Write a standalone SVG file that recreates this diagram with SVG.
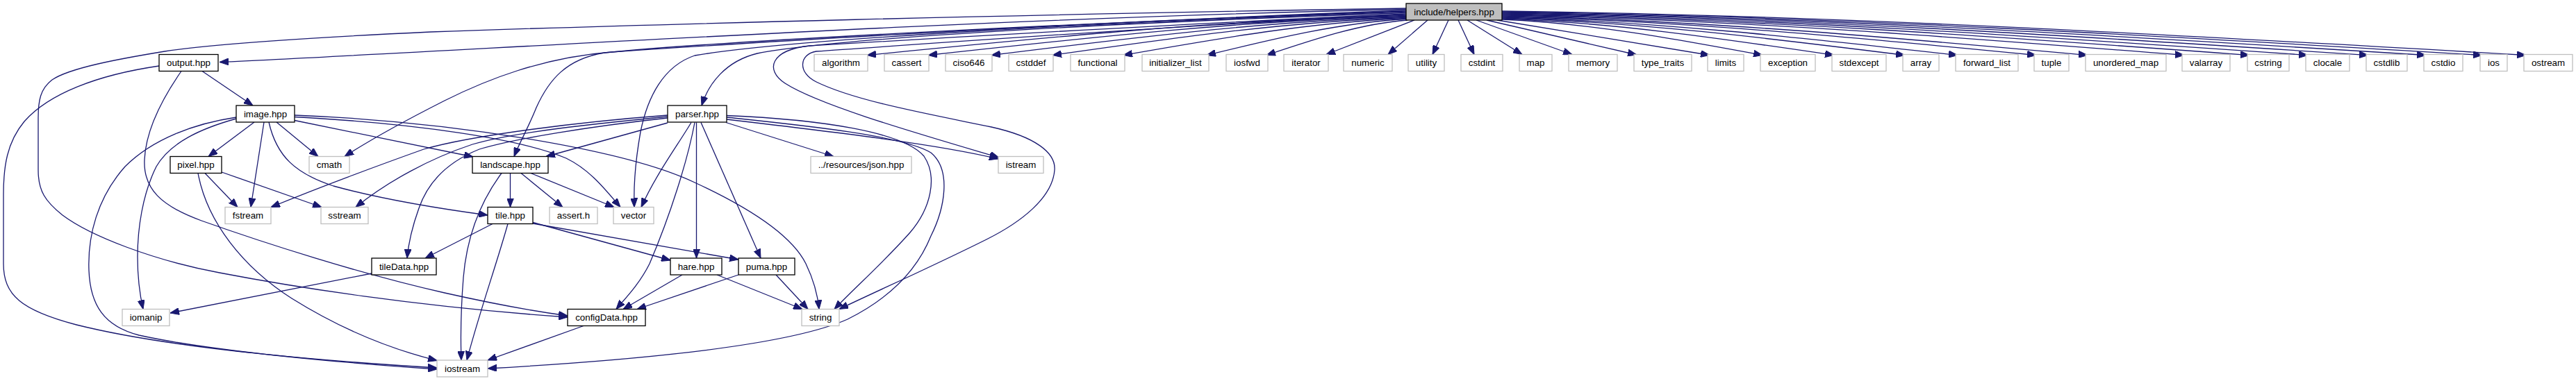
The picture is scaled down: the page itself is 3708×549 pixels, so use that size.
<svg xmlns="http://www.w3.org/2000/svg" width="3708" height="549" viewBox="0 0 3708 549">
<style>
.node rect{fill:#ffffff;stroke:#bfbfbf;stroke-width:1.3}
.node.b rect{stroke:#000000}
.node.root rect{fill:#bfbfbf;stroke:#000000}
.node text{font-family:"Liberation Sans",Helvetica,Arial,sans-serif;font-size:13.33px;text-anchor:middle;fill:#000000}
#edges path{fill:none;stroke:#191970;stroke-width:1.3;marker-end:url(#arr)}
</style>
<defs>
<marker id="arr" viewBox="0 0 13 10" refX="13" refY="5" markerWidth="13" markerHeight="10" orient="auto" markerUnits="userSpaceOnUse">
<path d="M0,0L13,5L0,10z" fill="#191970" stroke="#191970" stroke-width="1"/>
</marker>
</defs>
<rect width="3708" height="549" fill="#ffffff"/>
<g id="edges">
<!-- root long edges -->
<path d="M2024,12 C1500,20 900,36 620,46 C450,54 300,64 237,74 C170,85 100,98 75,115 C58,128 55,145 55,170 L55,245 C55,275 65,290 90,310 C130,340 220,375 316,393 C420,413 600,442 817,457"/>
<path d="M2024,13.5 C1400,26 700,72 316,89.5"/>
<path d="M2024,15 C1600,30 1100,60 880,75 C780,83 700,115 640,145 C575,178 535,200 496,225.5"/>
<path d="M2024,16 C1600,31 1050,58 870,76 C815,85 790,115 772,155 C760,185 748,205 740,225.5"/>
<path d="M2024,17 C1600,32 1150,55 1000,80 C955,95 932,140 922,190 C914,235 912,270 913,298.5"/>
<path d="M2024,18.5 C1600,33 1200,55 1090,77 C1045,88 1020,120 1010,152"/>
<path d="M2024,20 C1700,34 1350,55 1165,66 C1110,72 1100,100 1130,120 C1180,152 1320,192 1438,227"/>
<path d="M2024,21 C1700,36 1350,62 1175,74 C1150,78 1148,105 1175,118 C1230,145 1330,163 1427,183 C1490,197 1520,220 1518,245 C1515,285 1470,320 1420,345 C1340,385 1250,425 1208,445.5"/>
<!-- root fan left -->
<path d="M2024,22.5 C1765.3,28.2 1506.7,53.85 1248,79.5"/>
<path d="M2024,23.5 C1794.7,29.1 1565.3,54.3 1336,79.5"/>
<path d="M2024,24.5 C1825,30 1626,54.75 1427,79.5"/>
<path d="M2024,25.5 C1854.3,30.9 1684.7,55.2 1515,79.5"/>
<path d="M2024,26.5 C1888.3,31.8 1752.7,55.65 1617,79.5"/>
<path d="M2024,27.5 C1928.3,32.7 1832.7,56.1 1737,79.5"/>
<path d="M2026,29 C1958.3,34 1890.7,56.8 1823,79.5"/>
<path d="M2036,29 L1909,78.5"/>
<path d="M2055,29 L1998,78.5"/>
<path d="M2085,29 L2062,78.5"/>
<path d="M2099,29 L2122,78.5"/>
<path d="M2112,29 L2191,78.5"/>
<path d="M2125,29 L2263,78.5"/>
<path d="M2140,29 L2356,79"/>
<path d="M2155,29 L2461,79.5"/>
<!-- root fan right -->
<path d="M2162,28 C2287,33.15 2412,56.3 2537,79.5"/>
<path d="M2162,27 C2321.3,32.25 2480.7,55.9 2640,79.5"/>
<path d="M2162,26 C2355.3,31.35 2548.7,55.4 2742,79.5"/>
<path d="M2162,25 C2380.7,30.45 2599.3,55 2818,79.5"/>
<path d="M2162,24 C2418.3,29.55 2674.7,54.5 2931,79.5"/>
<path d="M2162,23 C2443,28.65 2724,54.1 3005,79.5"/>
<path d="M2162,22 C2489.3,27.75 2816.7,53.6 3144,79.5"/>
<path d="M2162,21 C2520.7,26.85 2879.3,53.2 3238,79.5"/>
<path d="M2162,20 C2548.7,25.95 2935.3,52.7 3322,79.5"/>
<path d="M2162,19 C2577.7,25.05 2993.3,52.3 3409,79.5"/>
<path d="M2162,18 C2605.3,24.15 3048.7,51.8 3492,79.5"/>
<path d="M2162,17 C2632.3,23.25 3102.7,51.4 3573,79.5"/>
<path d="M2162,16 C2653.3,22.35 3144.7,50.9 3636,79.5"/>
<!-- output.hpp -->
<path d="M291,102.5 L364,152"/>
<path d="M261,102.5 C235,140 210,185 208,230 C206,272 232,297 290,318 C380,350 520,395 640,422 C720,440 780,450 817,455"/>
<path d="M229,95 C140,108 70,135 35,175 C10,205 5,240 5,280 L5,380 C5,425 30,447 110,468 C230,498 430,518 629,530"/>
<!-- image.hpp -->
<path d="M366,176 L300,225.5"/>
<path d="M380,176 L361,298.5"/>
<path d="M398,176 L458,225.5"/>
<path d="M387,176 C398,225 425,250 480,268 C560,290 650,303 702,310"/>
<path d="M424,173.5 L681,226"/>
<path d="M424,168.5 C600,178 750,200 815,228 C850,245 872,274 893,298.5"/>
<path d="M424,166 C650,175 900,215 1000,263 C1080,300 1140,340 1160,380 C1172,405 1177,425 1179,445.5"/>
<path d="M340,171 C290,185 245,205 225,240 C205,280 198,330 198,370 C198,405 202,428 206,445.5"/>
<path d="M340,169 C280,178 220,200 180,240 C140,285 126,340 128,390 C130,440 150,470 200,483 C300,505 480,522 629,532"/>
<!-- pixel.hpp -->
<path d="M295,249.5 L342,298.5"/>
<path d="M319,248 L463,298.5"/>
<path d="M285,249.5 C298,320 350,385 420,430 C500,480 570,505 629,519.5"/>
<!-- landscape.hpp -->
<path d="M734.5,249.5 L734.5,298.5"/>
<path d="M750,249.5 L810,298.5"/>
<path d="M764,249.5 L884,298.5"/>
<path d="M722,249.5 C692,290 672,340 667,400 C663,450 663,490 664,519"/>
<!-- tile.hpp -->
<path d="M709,322.5 L612,372"/>
<path d="M731,322.5 C715,380 690,450 672,519"/>
<path d="M767,320.5 L965,375"/>
<path d="M767,322 L1063,374"/>
<!-- tileData, hare, puma, configData -->
<path d="M535,394 L245,451"/>
<path d="M982,396 L897,445.5"/>
<path d="M1063,396 L917,445.5"/>
<path d="M1032,396 L1155,445.5"/>
<path d="M1117,396 L1163,445.5"/>
<path d="M840,469.5 L702,519"/>
<!-- parser.hpp -->
<path d="M961,177 L786,225.5"/>
<path d="M961,166 C830,176 680,195 610,215 C540,240 460,270 390,298.5"/>
<path d="M961,168 C860,178 740,190 680,208 C620,228 560,260 512,298.5"/>
<path d="M961,170 C850,182 740,200 690,215 C640,235 615,265 603,300 C594,325 588,350 586,372"/>
<path d="M1000,176.5 C990,230 965,310 935,380 C920,410 900,430 887,445.5"/>
<path d="M995,176.5 C975,210 945,250 923,298.5"/>
<path d="M1002.5,176.5 L1002.5,372"/>
<path d="M1009,176.5 L1095,372"/>
<path d="M1045,176.5 L1200,225.5"/>
<path d="M1046,172 C1200,190 1350,208 1437,229"/>
<path d="M1046,166.5 C1180,172 1300,190 1330,225 C1350,255 1340,300 1310,335 C1270,380 1230,415 1201,445.5"/>
<path d="M1046,169 C1150,180 1300,195 1340,220 C1370,245 1360,300 1340,340 C1320,390 1280,430 1220,460 C1130,500 900,520 702,531"/>
</g>
<g id="n_root" class="node root"><rect x="2024" y="5" width="138" height="24"/><text x="2093" y="21.5">include/helpers.hpp</text></g>
<g id="n_output" class="node b"><rect x="229" y="78.5" width="85" height="24"/><text x="271.5" y="95">output.hpp</text></g>
<g id="n_algorithm" class="node"><rect x="1172" y="78.5" width="77" height="24"/><text x="1210.5" y="95">algorithm</text></g>
<g id="n_cassert" class="node"><rect x="1273" y="78.5" width="64" height="24"/><text x="1305" y="95">cassert</text></g>
<g id="n_ciso646" class="node"><rect x="1361" y="78.5" width="67" height="24"/><text x="1394.5" y="95">ciso646</text></g>
<g id="n_cstddef" class="node"><rect x="1452" y="78.5" width="64" height="24"/><text x="1484" y="95">cstddef</text></g>
<g id="n_functional" class="node"><rect x="1541" y="78.5" width="78" height="24"/><text x="1580" y="95">functional</text></g>
<g id="n_initializer_list" class="node"><rect x="1644" y="78.5" width="96" height="24"/><text x="1692" y="95">initializer_list</text></g>
<g id="n_iosfwd" class="node"><rect x="1765" y="78.5" width="60" height="24"/><text x="1795" y="95">iosfwd</text></g>
<g id="n_iterator" class="node"><rect x="1848" y="78.5" width="64" height="24"/><text x="1880" y="95">iterator</text></g>
<g id="n_numeric" class="node"><rect x="1934" y="78.5" width="70" height="24"/><text x="1969" y="95">numeric</text></g>
<g id="n_utility" class="node"><rect x="2027" y="78.5" width="52" height="24"/><text x="2053" y="95">utility</text></g>
<g id="n_cstdint" class="node"><rect x="2103" y="78.5" width="60" height="24"/><text x="2133" y="95">cstdint</text></g>
<g id="n_map" class="node"><rect x="2187" y="78.5" width="47" height="24"/><text x="2210.5" y="95">map</text></g>
<g id="n_memory" class="node"><rect x="2258" y="78.5" width="70" height="24"/><text x="2293" y="95">memory</text></g>
<g id="n_type_traits" class="node"><rect x="2352" y="78.5" width="83" height="24"/><text x="2393.5" y="95">type_traits</text></g>
<g id="n_limits" class="node"><rect x="2458" y="78.5" width="52" height="24"/><text x="2484" y="95">limits</text></g>
<g id="n_exception" class="node"><rect x="2534" y="78.5" width="79" height="24"/><text x="2573.5" y="95">exception</text></g>
<g id="n_stdexcept" class="node"><rect x="2637" y="78.5" width="78" height="24"/><text x="2676" y="95">stdexcept</text></g>
<g id="n_array" class="node"><rect x="2739" y="78.5" width="52" height="24"/><text x="2765" y="95">array</text></g>
<g id="n_forward_list" class="node"><rect x="2815" y="78.5" width="90" height="24"/><text x="2860" y="95">forward_list</text></g>
<g id="n_tuple" class="node"><rect x="2928" y="78.5" width="50" height="24"/><text x="2953" y="95">tuple</text></g>
<g id="n_unordered_map" class="node"><rect x="3002" y="78.5" width="116" height="24"/><text x="3060" y="95">unordered_map</text></g>
<g id="n_valarray" class="node"><rect x="3141" y="78.5" width="69" height="24"/><text x="3175.5" y="95">valarray</text></g>
<g id="n_cstring" class="node"><rect x="3235" y="78.5" width="60" height="24"/><text x="3265" y="95">cstring</text></g>
<g id="n_clocale" class="node"><rect x="3319" y="78.5" width="63" height="24"/><text x="3350.5" y="95">clocale</text></g>
<g id="n_cstdlib" class="node"><rect x="3406" y="78.5" width="59" height="24"/><text x="3435.5" y="95">cstdlib</text></g>
<g id="n_cstdio" class="node"><rect x="3489" y="78.5" width="56" height="24"/><text x="3517" y="95">cstdio</text></g>
<g id="n_ios" class="node"><rect x="3570" y="78.5" width="39" height="24"/><text x="3589.5" y="95">ios</text></g>
<g id="n_ostream" class="node"><rect x="3633" y="78.5" width="70" height="24"/><text x="3668" y="95">ostream</text></g>
<g id="n_image" class="node b"><rect x="340" y="152" width="84" height="24"/><text x="382" y="168.5">image.hpp</text></g>
<g id="n_parser" class="node b"><rect x="961" y="152" width="85" height="24"/><text x="1003.5" y="168.5">parser.hpp</text></g>
<g id="n_pixel" class="node b"><rect x="245" y="225.5" width="74" height="24"/><text x="282" y="242">pixel.hpp</text></g>
<g id="n_cmath" class="node"><rect x="445" y="225.5" width="58" height="24"/><text x="474" y="242">cmath</text></g>
<g id="n_landscape" class="node b"><rect x="680" y="225.5" width="109" height="24"/><text x="734.5" y="242">landscape.hpp</text></g>
<g id="n_json" class="node"><rect x="1167" y="225.5" width="145" height="24"/><text x="1239.5" y="242">../resources/json.hpp</text></g>
<g id="n_istream" class="node"><rect x="1437" y="225.5" width="65" height="24"/><text x="1469.5" y="242">istream</text></g>
<g id="n_fstream" class="node"><rect x="324" y="298.5" width="66" height="24"/><text x="357" y="315">fstream</text></g>
<g id="n_sstream" class="node"><rect x="462" y="298.5" width="68" height="24"/><text x="496" y="315">sstream</text></g>
<g id="n_tile" class="node b"><rect x="702" y="298.5" width="65" height="24"/><text x="734.5" y="315">tile.hpp</text></g>
<g id="n_assert" class="node"><rect x="791" y="298.5" width="69" height="24"/><text x="825.5" y="315">assert.h</text></g>
<g id="n_vector" class="node"><rect x="883" y="298.5" width="58" height="24"/><text x="912" y="315">vector</text></g>
<g id="n_tileData" class="node b"><rect x="535" y="372" width="93" height="24"/><text x="581.5" y="388.5">tileData.hpp</text></g>
<g id="n_hare" class="node b"><rect x="965" y="372" width="74" height="24"/><text x="1002" y="388.5">hare.hpp</text></g>
<g id="n_puma" class="node b"><rect x="1063" y="372" width="81" height="24"/><text x="1103.5" y="388.5">puma.hpp</text></g>
<g id="n_iomanip" class="node"><rect x="176" y="445.5" width="68" height="24"/><text x="210" y="462">iomanip</text></g>
<g id="n_configData" class="node b"><rect x="817" y="445.5" width="112" height="24"/><text x="873" y="462">configData.hpp</text></g>
<g id="n_string" class="node"><rect x="1154" y="445.5" width="54" height="24"/><text x="1181" y="462">string</text></g>
<g id="n_iostream" class="node"><rect x="629" y="519" width="73" height="24"/><text x="665.5" y="535.5">iostream</text></g>
</svg>
